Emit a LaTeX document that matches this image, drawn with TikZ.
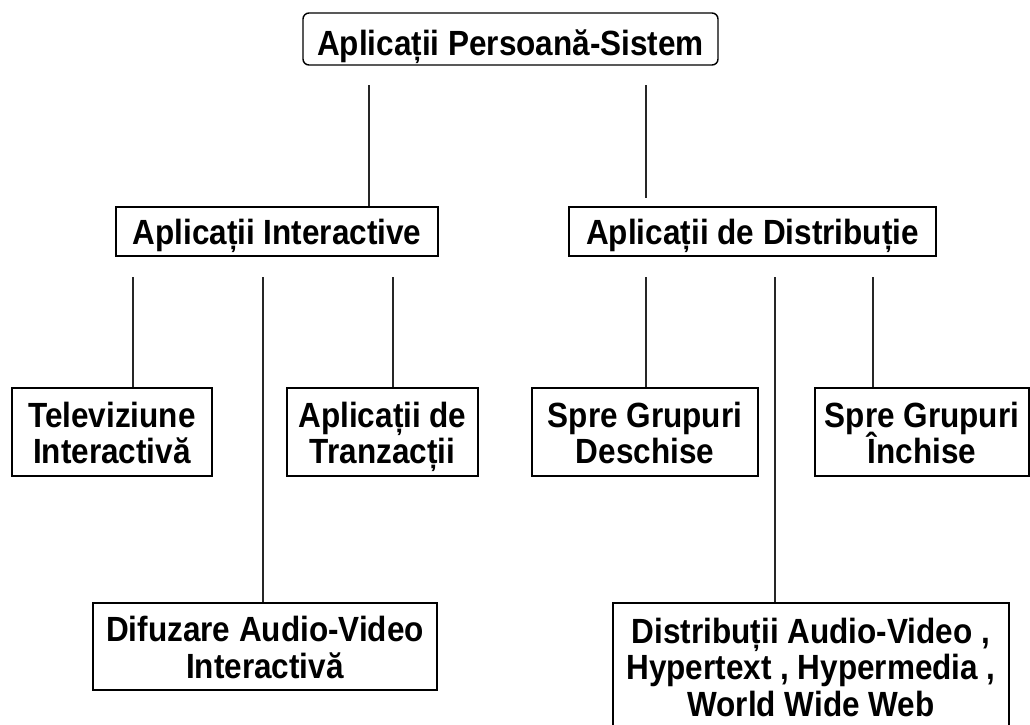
\documentclass[tikz,border=0pt]{standalone}
\usepackage{fontspec}
\setmainfont{Liberation Sans}[FakeStretch=0.9]
\setlength{\lineskiplimit}{-100pt}
\newcommand\mytop{\rule{0pt}{1em}}
\newcommand\mybot{\rule[-0.22em]{0pt}{0pt}}
\begin{document}
\begin{tikzpicture}[x=1pt,y=-1pt,
  box/.style={draw=black, line width=1.4pt, inner sep=0pt, align=center,
    font=\bfseries\fontsize{35pt}{36.5pt}\selectfont},
  conn/.style={draw=black!85, line width=1.3pt}]
\path[use as bounding box] (0,0) rectangle (1030,724);
\node[box, rounded corners=6pt, minimum width=415pt, minimum height=52pt] (top) at (510.5,39) {\rule{0pt}{1.2em}Aplicații Persoană-Sistem\mybot};
\node[box, minimum width=322pt, minimum height=49pt] (inter) at (277,231.5) {\mytop Aplicații Interactive\mybot};
\node[box, minimum width=367pt, minimum height=49pt] (distr) at (752.5,231.5) {\mytop Aplicații de Distribuție\mybot};
\node[box, minimum width=200pt, minimum height=88pt] (tv) at (112,432) {\mytop Televiziune\\Interactivă\mybot};
\node[box, minimum width=191pt, minimum height=88pt] (tranz) at (382.5,432) {\mytop Aplicații de\\Tranzacții\mybot};
\node[box, minimum width=226pt, minimum height=88pt] (desch) at (645,432) {\mytop Spre Grupuri\\Deschise\mybot};
\node[box, minimum width=214pt, minimum height=88pt] (inch) at (922,432) {\mytop Spre Grupuri\\Închise\mybot};
\node[box, minimum width=344pt, minimum height=87pt] (difuz) at (265,646.5) {\mytop Difuzare Audio-Video\\Interactivă\mybot};
\node[box, minimum width=396pt, minimum height=126pt] (distrib) at (811,665.9) {\mytop Distribuții Audio-Video ,\\Hypertext , Hypermedia ,\\World Wide Web\mybot};
% connectors
\coordinate (t1) at (369,85);
\coordinate (t2) at (646,85);
\coordinate (t2e) at (646,198);
\coordinate (i1) at (133,277);
\coordinate (i2) at (263,277);
\coordinate (i3) at (393,277);
\coordinate (d1) at (646,277);
\coordinate (d2) at (775,277);
\coordinate (d3) at (873,277);
\draw[conn] (t1) -- (t1 |- inter.north);
\draw[conn] (t2) -- (t2e);
\draw[conn] (i1) -- (i1 |- tv.north);
\draw[conn] (i2) -- (i2 |- difuz.north);
\draw[conn] (i3) -- (i3 |- tranz.north);
\draw[conn] (d1) -- (d1 |- desch.north);
\draw[conn] (d2) -- (d2 |- distrib.north);
\draw[conn] (d3) -- (d3 |- inch.north);
\end{tikzpicture}
\end{document}
